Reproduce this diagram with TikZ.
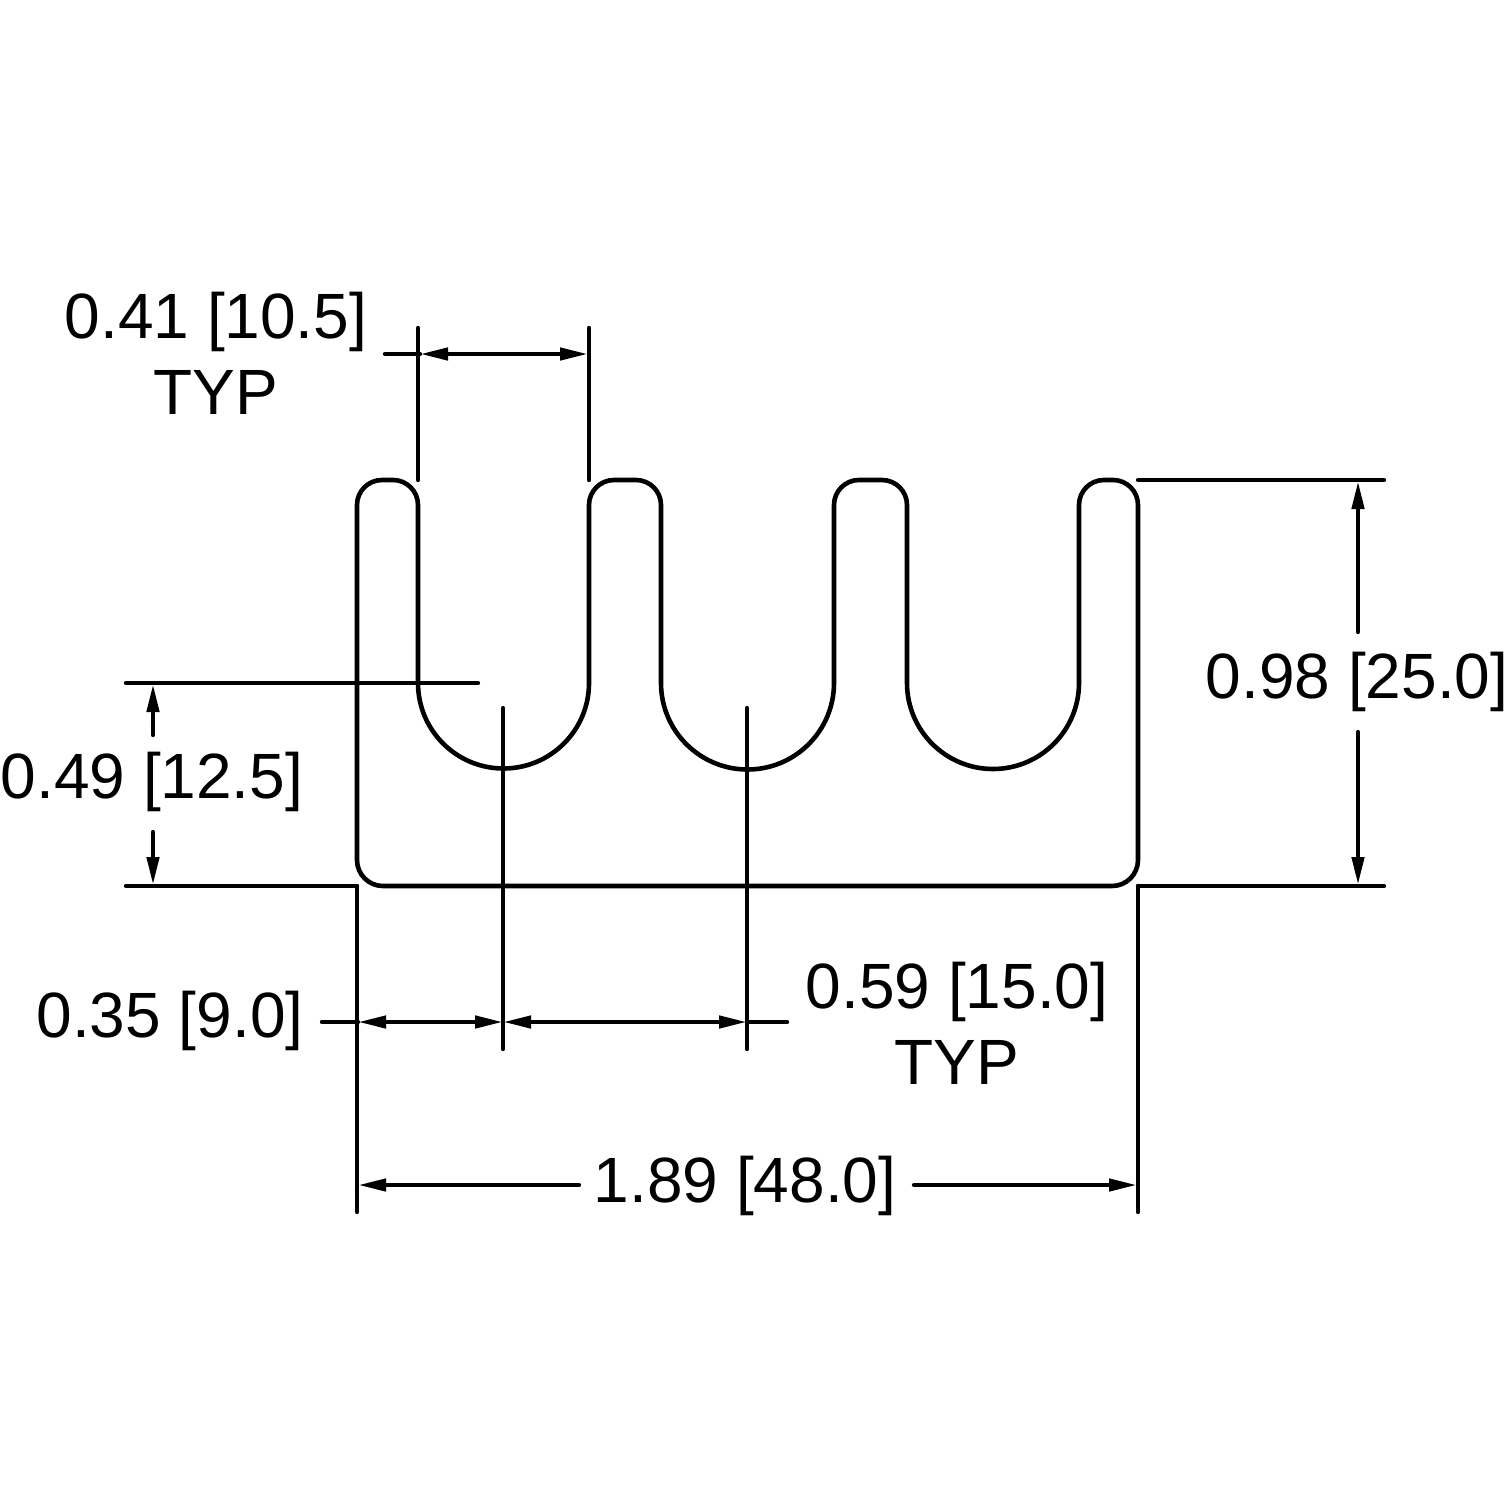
\documentclass[tikz,border=0pt]{standalone}
\usepackage{fontspec}
\setmainfont{Liberation Sans}
\usetikzlibrary{arrows.meta}
\tikzset{
  part/.style={line width=4.6pt,line join=round,line cap=round},
  dimline/.style={line width=4.4pt,line cap=round},
  tip/.style={-{Triangle[length=28pt,width=12pt]}},
  bitip/.style={{Triangle[length=28pt,width=12pt]}-{Triangle[length=28pt,width=12pt]}},
  lbl/.style={font=\fontsize{64}{76}\selectfont,inner sep=0pt,align=center}
}
\begin{document}
\begin{tikzpicture}[x=1pt,y=-1pt]
\useasboundingbox (0,0) rectangle (1509,1509);
% profile
\draw[part] (357,860) -- (357,505) arc[start angle=180,end angle=270,radius=25] -- (393,480) arc[start angle=270,end angle=360,radius=25] -- (418,683)
  arc[start angle=180,end angle=90,radius=85.5] arc[start angle=90,end angle=0,radius=85.5]
  -- (589,505) arc[start angle=180,end angle=270,radius=25] -- (636,480) arc[start angle=270,end angle=360,radius=25]
  -- (661,683) arc[start angle=180,end angle=90,radius=86.5] arc[start angle=90,end angle=0,radius=86.5]
  -- (834,505) arc[start angle=180,end angle=270,radius=25] -- (882,480) arc[start angle=270,end angle=360,radius=25]
  -- (907,683) arc[start angle=180,end angle=90,radius=86] arc[start angle=90,end angle=0,radius=86]
  -- (1079,505) arc[start angle=180,end angle=270,radius=25] -- (1113,480) arc[start angle=270,end angle=360,radius=25]
  -- (1138,860) arc[start angle=0,end angle=90,radius=26] -- (383,886) arc[start angle=90,end angle=180,radius=26] -- cycle;
% named anchors
\coordinate (w1a) at (418,328); \coordinate (w1b) at (418,480);
\coordinate (w2a) at (589,328); \coordinate (w2b) at (589,480);
\coordinate (a41s) at (385,354); \coordinate (a41l) at (420,354); \coordinate (a41r) at (588,354);
\coordinate (r1) at (1138,480); \coordinate (r2) at (1384,480);
\coordinate (r3) at (1138,886); \coordinate (r4) at (1384,886);
\coordinate (a98t) at (1358,481); \coordinate (a98u) at (1358,632); \coordinate (a98d) at (1358,732); \coordinate (a98b) at (1358,885);
\coordinate (l1) at (126,683); \coordinate (l2) at (478,683);
\coordinate (l3) at (126,886); \coordinate (l4) at (357,886);
\coordinate (a49t) at (153,684); \coordinate (a49u) at (153,735); \coordinate (a49d) at (153,832); \coordinate (a49b) at (153,885);
\coordinate (v0a) at (357,886); \coordinate (v0b) at (357,1212);
\coordinate (v1a) at (503,708); \coordinate (v1b) at (503,1049);
\coordinate (v2a) at (747,708); \coordinate (v2b) at (747,1049);
\coordinate (v3a) at (1138,886); \coordinate (v3b) at (1138,1212);
\coordinate (h1) at (322,1022); \coordinate (h2) at (358,1022); \coordinate (h3) at (503,1022); \coordinate (h4) at (747,1022); \coordinate (h5) at (787,1022);
\coordinate (b1) at (358,1185); \coordinate (b2) at (579,1185); \coordinate (b3) at (914,1185); \coordinate (b4) at (1137,1185);
% extension lines
\draw[dimline] (w1a) -- (w1b);
\draw[dimline] (w2a) -- (w2b);
\draw[dimline] (r1) -- (r2);
\draw[dimline] (r3) -- (r4);
\draw[dimline] (l1) -- (l2);
\draw[dimline] (l3) -- (l4);
\draw[dimline] (v0a) -- (v0b);
\draw[dimline] (v1a) -- (v1b);
\draw[dimline] (v2a) -- (v2b);
\draw[dimline] (v3a) -- (v3b);
% dimension lines
\draw[dimline] (a41s) -- (a41l);
\draw[dimline,bitip] (a41l) -- (a41r);
\draw[dimline,tip] (a98u) -- (a98t);
\draw[dimline,tip] (a98d) -- (a98b);
\draw[dimline,tip] (a49u) -- (a49t);
\draw[dimline,tip] (a49d) -- (a49b);
\draw[dimline] (h1) -- (h2);
\draw[dimline,bitip] (h2) -- (h3);
\draw[dimline,bitip] (h3) -- (h4);
\draw[dimline] (h4) -- (h5);
\draw[dimline,tip] (b2) -- (b1);
\draw[dimline,tip] (b3) -- (b4);
% labels
\node[lbl] (t41) at (216,353) {0.41 [10.5]\\TYP};
\node[lbl] (t98) at (1357,682) {0.98 [25.0]};
\node[lbl] (t49) at (152,782) {0.49 [12.5]};
\node[lbl] (t35) at (170,1021) {0.35 [9.0]};
\node[lbl] (t59) at (957,1023) {0.59 [15.0]\\TYP};
\node[lbl] (t189) at (745,1186) {1.89 [48.0]};
\end{tikzpicture}
\end{document}
